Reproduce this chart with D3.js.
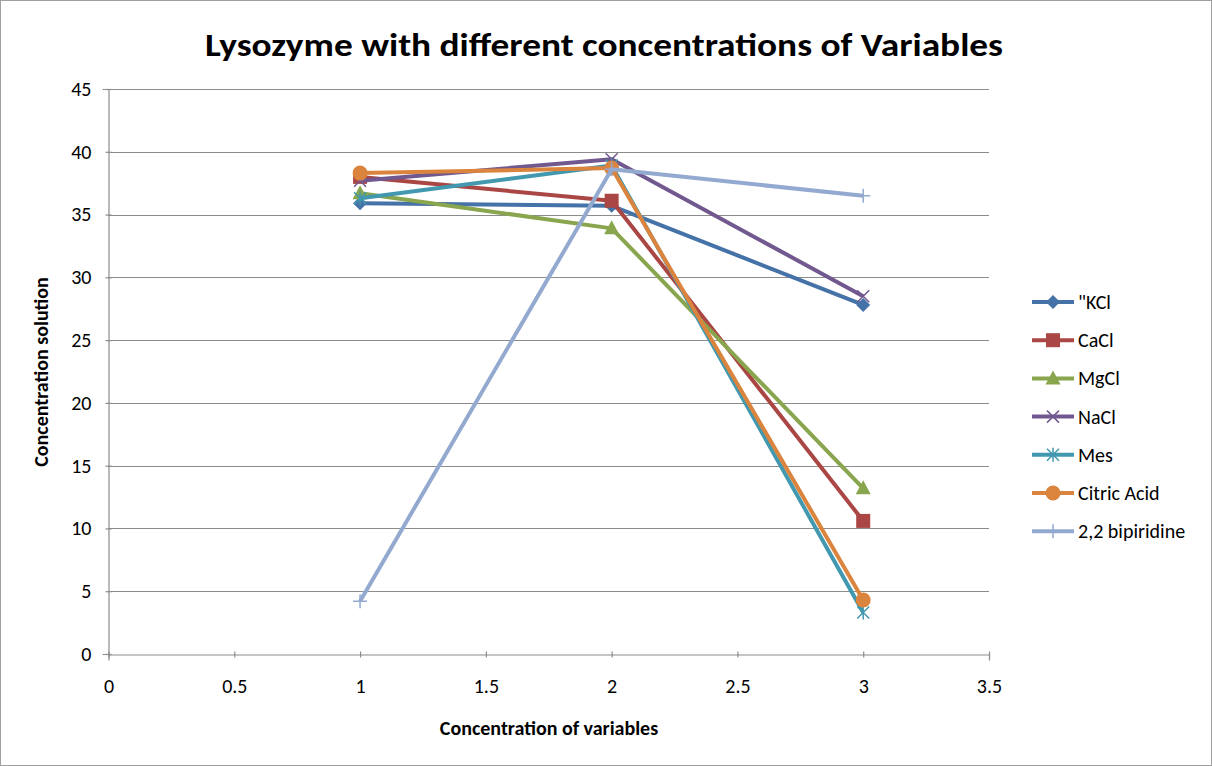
<!DOCTYPE html>
<html>
<head>
<meta charset="utf-8">
<script src="https://cdn.jsdelivr.net/npm/d3@7"></script>
<style>
  body { margin: 0; background: #fff; }
  text { font-family: Carlito, "Open Sans", "DejaVu Sans", sans-serif; }
</style>
</head>
<body>
<svg id="chart" width="1212" height="766"></svg>
<script>
var xValues = [1, 2, 3];
var seriesNames = ['"KCl', "CaCl", "MgCl", "NaCl", "Mes", "Citric Acid", "2,2 bipiridine"];
var kcl = [35.9, 35.7, 27.8];
var cacl = [38.0, 36.1, 10.6];
var mgcl = [36.7, 33.9, 13.2];
var nacl = [37.7, 39.4, 28.5];
var mes = [36.3, 38.9, 3.3];
var citric = [38.3, 38.7, 4.3];
var bipiridine = [4.2, 38.6, 36.5];
var xTicks = [0, 0.5, 1, 1.5, 2, 2.5, 3, 3.5];
var yTicks = [0, 5, 10, 15, 20, 25, 30, 35, 40, 45];

var colors = ["#4572A7", "#AA4643", "#89A54E", "#71588F", "#4198AF", "#DB843D", "#93A9CF"];
var shapes = ["diamond", "square", "triangle", "x", "star", "circle", "plus"];
var seriesValues = [kcl, cacl, mgcl, nacl, mes, citric, bipiridine];

var series = seriesNames.map(function(n, i) {
  return { name: n, color: colors[i], shape: shapes[i],
    points: xValues.map(function(x, j) { return [x, seriesValues[i][j]]; }) };
});

var svg = d3.select("#chart");
var margin = { left: 108.5, right: 989, top: 89, bottom: 654 };

var x = d3.scaleLinear().domain([0, 3.5]).range([margin.left, margin.right]);
var y = d3.scaleLinear().domain([0, 45]).range([margin.bottom, margin.top]);

// outer border
svg.append("rect").attr("x", 0.5).attr("y", 0.5).attr("width", 1211).attr("height", 765)
  .attr("fill", "#fff").attr("stroke", "#a0a0a0").attr("stroke-width", 1);

// title
svg.append("text").attr("x", 604).attr("y", 56).attr("text-anchor", "middle")
  .attr("font-size", 32).attr("font-weight", "bold").attr("fill", "#000")
  .attr("textLength", 798).attr("lengthAdjust", "spacingAndGlyphs")
  .text("Lysozyme with different concentrations of Variables");

// gridlines
svg.append("g").selectAll("line").data(yTicks.slice(1)).enter().append("line")
  .attr("x1", margin.left).attr("x2", margin.right)
  .attr("y1", function(d) { return Math.round(y(d)) + 0.5; })
  .attr("y2", function(d) { return Math.round(y(d)) + 0.5; })
  .attr("stroke", "#8c8c8c").attr("stroke-width", 1.2);

// axes
var xAxis = svg.append("g").attr("transform", "translate(0," + (Math.round(y(0)) + 0.5) + ")")
  .call(d3.axisBottom(x).tickValues(xTicks).tickSize(6).tickPadding(18)
    .tickFormat(function(d) { return String(d); }));
var yAxis = svg.append("g").attr("transform", "translate(" + margin.left + ",0)")
  .call(d3.axisLeft(y).tickValues(yTicks).tickSize(6).tickPadding(11));
[xAxis, yAxis].forEach(function(a) {
  a.select(".domain").attr("stroke", "#8c8c8c").attr("stroke-width", 1.2);
  a.selectAll(".tick line").attr("stroke", "#8c8c8c").attr("stroke-width", 1.2);
  a.selectAll(".tick text").attr("font-size", 20).attr("fill", "#000")
    .style("font-family", 'Carlito, "Open Sans", sans-serif');
});
xAxis.selectAll(".tick line").attr("y1", -3).attr("y2", 3);
yAxis.selectAll(".tick line").attr("x1", 3).attr("x2", -3);

// axis titles
svg.append("text").attr("x", 549).attr("y", 735).attr("text-anchor", "middle")
  .attr("font-size", 20).attr("font-weight", "bold").text("Concentration of variables");
svg.append("text").attr("transform", "translate(48,372) rotate(-90)").attr("text-anchor", "middle")
  .attr("font-size", 20).attr("font-weight", "bold").text("Concentration solution");

function marker(g, shape, color) {
  if (shape == "diamond") {
    g.append("path").attr("d", "M0,-7L7,0L0,7L-7,0Z").attr("fill", color);
  } else if (shape == "square") {
    g.append("rect").attr("x", -7).attr("y", -7).attr("width", 14).attr("height", 14).attr("fill", color);
  } else if (shape == "triangle") {
    g.append("path").attr("d", "M0,-8L7.5,6L-7.5,6Z").attr("fill", color);
  } else if (shape == "x") {
    g.append("path").attr("d", "M-6,-6L6,6M-6,6L6,-6").attr("stroke", color).attr("stroke-width", 1.5);
  } else if (shape == "star") {
    g.append("path").attr("d", "M-6,-6L6,6M-6,6L6,-6M0,-7L0,7").attr("stroke", color).attr("stroke-width", 1.5);
  } else if (shape == "circle") {
    g.append("circle").attr("r", 7.5).attr("fill", color);
  } else if (shape == "plus") {
    g.append("path").attr("d", "M-7,0L7,0M0,-7L0,7").attr("stroke", color).attr("stroke-width", 1.5);
  }
}

var line = d3.line().x(function(d) { return x(d[0]); }).y(function(d) { return y(d[1]); });

series.forEach(function(s) {
  var g = svg.append("g");
  g.append("path").datum(s.points).attr("d", line).attr("fill", "none")
    .attr("stroke", s.color).attr("stroke-width", 4).attr("stroke-linejoin", "round");
  s.points.forEach(function(p) {
    var m = g.append("g").attr("transform", "translate(" + x(p[0]) + "," + y(p[1]) + ")");
    marker(m, s.shape, s.color);
  });
});

// legend
var legend = svg.append("g");
series.forEach(function(s, i) {
  var ly = 302 + i * 38.2;
  var lg = legend.append("g").attr("transform", "translate(1032," + ly + ")");
  lg.append("line").attr("x1", 0).attr("x2", 42).attr("stroke", s.color).attr("stroke-width", 4);
  var m = lg.append("g").attr("transform", "translate(21,0)");
  marker(m, s.shape, s.color);
  lg.append("text").attr("x", 46).attr("y", 7).attr("font-size", 20).attr("fill", "#000").text(s.name);
});
</script>
</body>
</html>
